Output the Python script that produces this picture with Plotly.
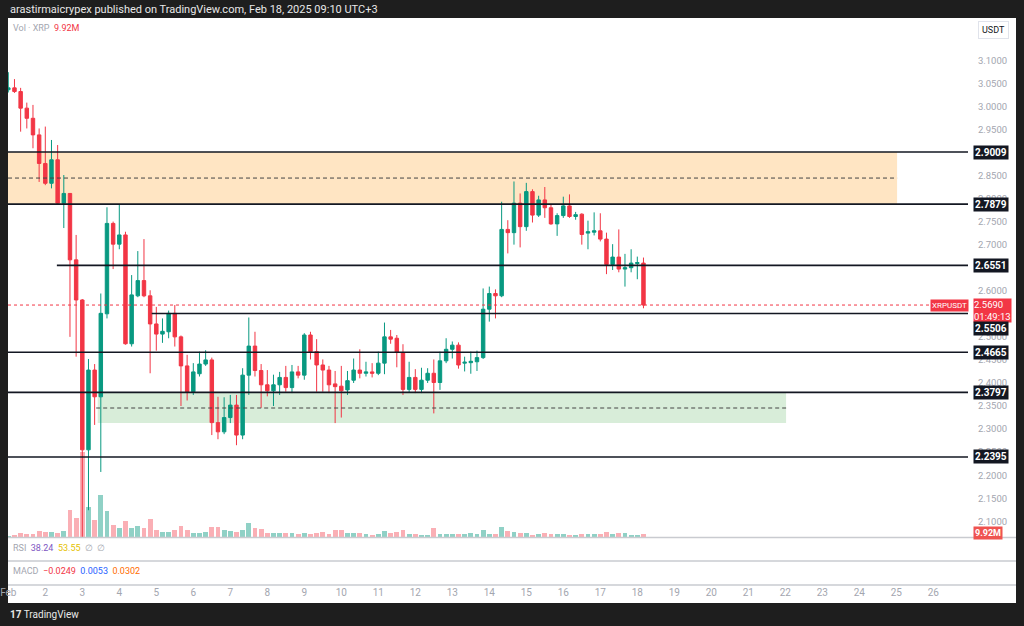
import pandas as pd
import plotly.graph_objects as go

# ---------------- data ----------------
start_time = "2025-02-01 00:00"
opens = [3.036, 3.040, 3.032, 2.996, 2.974, 2.938, 2.876, 2.833, 2.884, 2.790,
         2.811, 2.667, 2.580, 2.255, 2.428, 2.370, 2.550, 2.746, 2.701, 2.721,
         2.485, 2.589, 2.622, 2.589, 2.528, 2.506, 2.511, 2.551, 2.500, 2.437,
         2.381, 2.420, 2.441, 2.450, 2.314, 2.294, 2.325, 2.352, 2.287, 2.417,
         2.480, 2.427, 2.396, 2.383, 2.396, 2.412, 2.390, 2.424, 2.417, 2.504,
         2.468, 2.439, 2.428, 2.398, 2.393, 2.385, 2.406, 2.428, 2.421, 2.424,
         2.421, 2.443, 2.500, 2.497, 2.466, 2.386, 2.412, 2.386, 2.406, 2.421,
         2.401, 2.448, 2.473, 2.482, 2.443, 2.444, 2.446, 2.455, 2.560, 2.594,
         2.589, 2.733, 2.726, 2.790, 2.739, 2.815, 2.764, 2.797, 2.780, 2.745,
         2.763, 2.784, 2.761, 2.766, 2.725, 2.727, 2.730, 2.712, 2.657, 2.673,
         2.647, 2.650, 2.659, 2.660]
highs = [3.074, 3.059, 3.040, 3.008, 3.003, 2.952, 2.956, 2.927, 2.916, 2.851,
         2.812, 2.721, 2.582, 2.452, 2.441, 2.594, 2.781, 2.750, 2.788, 2.728,
         2.634, 2.686, 2.712, 2.601, 2.565, 2.540, 2.557, 2.569, 2.503, 2.461,
         2.443, 2.468, 2.471, 2.455, 2.370, 2.369, 2.374, 2.374, 2.432, 2.542,
         2.511, 2.441, 2.428, 2.418, 2.424, 2.437, 2.439, 2.437, 2.508, 2.511,
         2.495, 2.451, 2.437, 2.426, 2.437, 2.426, 2.453, 2.473, 2.446, 2.443,
         2.468, 2.531, 2.515, 2.504, 2.484, 2.446, 2.430, 2.433, 2.432, 2.451,
         2.468, 2.497, 2.490, 2.488, 2.457, 2.468, 2.470, 2.605, 2.609, 2.603,
         2.793, 2.753, 2.837, 2.811, 2.834, 2.820, 2.806, 2.825, 2.787, 2.768,
         2.804, 2.809, 2.771, 2.768, 2.752, 2.770, 2.768, 2.726, 2.701, 2.733,
         2.680, 2.690, 2.674, 2.672]
lows = [3.030, 3.029, 2.945, 2.952, 2.909, 2.836, 2.829, 2.822, 2.786, 2.736,
        2.500, 2.457, 1.770, 2.124, 2.309, 2.207, 2.540, 2.647, 2.690, 2.483,
        2.479, 2.586, 2.586, 2.421, 2.470, 2.487, 2.497, 2.479, 2.350, 2.362,
        2.374, 2.414, 2.437, 2.287, 2.278, 2.289, 2.313, 2.265, 2.278, 2.374,
        2.414, 2.346, 2.371, 2.350, 2.374, 2.381, 2.378, 2.410, 2.407, 2.451,
        2.381, 2.381, 2.378, 2.313, 2.325, 2.374, 2.400, 2.410, 2.414, 2.412,
        2.417, 2.419, 2.485, 2.434, 2.374, 2.380, 2.378, 2.378, 2.400, 2.334,
        2.385, 2.443, 2.453, 2.431, 2.425, 2.420, 2.426, 2.452, 2.533, 2.540,
        2.586, 2.681, 2.700, 2.694, 2.730, 2.748, 2.760, 2.758, 2.743, 2.719,
        2.758, 2.758, 2.754, 2.700, 2.690, 2.720, 2.707, 2.636, 2.645, 2.640,
        2.609, 2.640, 2.625, 2.562]
closes = [3.040, 3.032, 2.996, 2.974, 2.938, 2.876, 2.833, 2.884, 2.790, 2.811,
          2.667, 2.580, 2.255, 2.428, 2.370, 2.551, 2.746, 2.701, 2.721, 2.485,
          2.591, 2.622, 2.589, 2.528, 2.506, 2.512, 2.551, 2.500, 2.437, 2.381,
          2.424, 2.441, 2.450, 2.314, 2.294, 2.325, 2.352, 2.287, 2.417, 2.480,
          2.427, 2.396, 2.383, 2.396, 2.412, 2.390, 2.424, 2.417, 2.504, 2.468,
          2.439, 2.428, 2.396, 2.392, 2.383, 2.405, 2.428, 2.421, 2.424, 2.421,
          2.443, 2.500, 2.495, 2.466, 2.386, 2.412, 2.386, 2.406, 2.421, 2.401,
          2.448, 2.473, 2.482, 2.439, 2.445, 2.447, 2.455, 2.560, 2.594, 2.589,
          2.733, 2.726, 2.790, 2.739, 2.815, 2.764, 2.797, 2.780, 2.745, 2.763,
          2.784, 2.761, 2.765, 2.722, 2.728, 2.730, 2.712, 2.657, 2.673, 2.647,
          2.650, 2.660, 2.661, 2.569]
volumes_m = [4.3, 6.6, 12, 10, 10, 19, 16.5, 15.5, 14, 20,
             89, 63, 280, 99, 56, 139, 86, 40, 30, 53,
             31, 35, 29, 59, 24, 15.5, 15.5, 23, 37, 24,
             13, 13, 16.5, 32, 32, 23, 19, 17.5, 22, 46,
             29, 26, 13, 12, 13, 13, 13, 9, 13, 10,
             12, 15.5, 9, 24, 24, 13, 13, 13, 11, 7.6,
             11, 20, 13, 15.5, 23, 11, 9, 6.6, 6.6, 31,
             11, 11, 10, 10, 10, 13, 9, 23, 11, 9,
             33, 20, 17.5, 13, 13, 7.6, 9, 13, 11, 9,
             9, 6.6, 6.6, 10, 9, 9, 9, 16.5, 9, 13,
             13, 6.6, 6.6, 9.92]

level_prices = [2.9009, 2.7879, 2.6551, 2.5506, 2.4665, 2.3797, 2.2395]
level_starts = [None, None, "2025-02-02 07:30", "2025-02-04 21:00", None, None, None]
supply_zone = [2.7879, 2.9009, 2.8444]      # bottom, top, mid
demand_zone = [2.3131, 2.3797, 2.3457]
last_price = 2.5690
countdown = "01:49:13"
price_ticks = [2.10, 2.15, 2.20, 2.25, 2.30, 2.35, 2.40, 2.45, 2.50, 2.60,
               2.70, 2.75, 2.80, 2.85, 2.95, 3.00, 3.05, 3.10]
day_ticks = pd.date_range("2025-02-01", "2025-02-27", freq="D")
day_labels = ["Feb"] + [str(d) for d in range(2, 28)]

times = pd.date_range(start_time, periods=len(opens), freq="4h")

# ---------------- layout helpers ----------------
W, H = 1024, 626
def px(x):
    return x / W
def py(y):
    return 1 - y / H

GREEN = "#089981"
RED = "#f23645"
x_range = [pd.Timestamp("2025-01-31 23:48"), pd.Timestamp("2025-02-26 22:30")]
y_range = [2.06594, 3.19151]

vol_colors = ["rgba(8,153,129,0.45)" if c >= o else "rgba(242,54,69,0.40)"
              for o, c in zip(opens, closes)]

fig = go.Figure()
fig.add_trace(go.Bar(x=times, y=volumes_m, marker=dict(color=vol_colors, line=dict(width=0)),
                     width=4 * 3600 * 1000 * 0.8, xaxis="x", yaxis="y", hoverinfo="skip",
                     showlegend=False))
fig.add_trace(go.Candlestick(
    x=times, open=opens, high=highs, low=lows, close=closes,
    xaxis="x", yaxis="y2", showlegend=False, whiskerwidth=0,
    increasing=dict(line=dict(color=GREEN, width=1), fillcolor=GREEN),
    decreasing=dict(line=dict(color=RED, width=1), fillcolor=RED),
))

shapes = []
# white chart canvas
shapes.append(dict(type="rect", xref="paper", yref="paper", x0=px(8), x1=px(1016),
                   y0=py(603), y1=py(18), fillcolor="white", line=dict(width=0), layer="below"))
# zones
shapes.append(dict(type="rect", xref="x", yref="y2", x0=x_range[0], x1="2025-02-25 00:30",
                   y0=supply_zone[0], y1=supply_zone[1], fillcolor="rgba(255,160,40,0.28)",
                   line=dict(width=0), layer="below"))
shapes.append(dict(type="rect", xref="x", yref="y2", x0="2025-02-03 10:00", x1="2025-02-22 00:30",
                   y0=demand_zone[0], y1=demand_zone[1], fillcolor="rgba(76,175,80,0.22)",
                   line=dict(width=0), layer="below"))
shapes.append(dict(type="line", xref="x", yref="y2", x0=x_range[0], x1="2025-02-25 00:30",
                   y0=supply_zone[2], y1=supply_zone[2],
                   line=dict(color="#444", width=1, dash="4px,3px")))
shapes.append(dict(type="line", xref="x", yref="y2", x0="2025-02-03 09:00", x1="2025-02-22 00:30",
                   y0=demand_zone[2], y1=demand_zone[2],
                   line=dict(color="#444", width=1, dash="4px,3px")))
# horizontal levels
for p, s in zip(level_prices, level_starts):
    shapes.append(dict(type="line", xref="x", yref="y2", x0=s if s else x_range[0], x1=x_range[1],
                       y0=p, y1=p, line=dict(color="#131722", width=1.6)))
# last price dotted
shapes.append(dict(type="line", xref="x", yref="y2", x0=x_range[0], x1=x_range[1],
                   y0=last_price, y1=last_price, line=dict(color=RED, width=1, dash="dot")))
# pane separators
for yy in (537.5, 561, 585):
    shapes.append(dict(type="line", xref="paper", yref="paper", x0=px(8), x1=px(1016),
                       y0=py(yy), y1=py(yy), line=dict(color="#c9cbd0", width=1.5)))

FONT = "Roboto, Arial, sans-serif"
ann = []
ann.append(dict(xref="paper", yref="paper", x=px(8), y=py(9), xanchor="left", yanchor="middle",
                text="arastirmaicrypex published on TradingView.com, Feb 18, 2025 09:10 UTC+3",
                showarrow=False, font=dict(family=FONT, size=11, color="#e8e8e8")))
ann.append(dict(xref="paper", yref="paper", x=px(11), y=py(28), xanchor="left", yanchor="middle",
                text="<span style='color:#a3a6af'>Vol · XRP</span>  <span style='color:#f23645'>9.92M</span>",
                showarrow=False, font=dict(family=FONT, size=9)))
ann.append(dict(xref="paper", yref="paper", x=px(11), y=py(548), xanchor="left", yanchor="middle",
                text="<span style='color:#a3a6af'>RSI</span>  <span style='color:#7e57c2'>38.24</span>  "
                     "<span style='color:#e5c100'>53.55</span>  <span style='color:#a3a6af'>∅  ∅</span>",
                showarrow=False, font=dict(family=FONT, size=9)))
ann.append(dict(xref="paper", yref="paper", x=px(11), y=py(571), xanchor="left", yanchor="middle",
                text="<span style='color:#a3a6af'>MACD</span>  <span style='color:#f23645'>−0.0249</span>  "
                     "<span style='color:#2962ff'>0.0053</span>  <span style='color:#ff6d00'>0.0302</span>",
                showarrow=False, font=dict(family=FONT, size=9)))
ann.append(dict(xref="paper", yref="paper", x=px(8), y=py(614), xanchor="left", yanchor="middle",
                text="<b>17</b> TradingView", showarrow=False,
                font=dict(family=FONT, size=10, color="#e8e8e8")))
ann.append(dict(xref="paper", yref="paper", x=px(993), y=py(30), xanchor="center", yanchor="middle",
                text="USDT", showarrow=False, bgcolor="white", bordercolor="#e0e3eb", borderwidth=1,
                borderpad=3, font=dict(family=FONT, size=9, color="#131722")))
# live price box
ann.append(dict(xref="paper", yref="y2", x=px(973), y=last_price, xanchor="left", yanchor="top",
                yshift=7, text=f"{last_price:.4f}<br>{countdown}", showarrow=False, bgcolor=RED,
                borderpad=0, align="left", font=dict(family=FONT, size=9.5, color="white")))
ann.append(dict(xref="paper", yref="y2", x=px(969), y=last_price, xanchor="right", yanchor="middle",
                text="XRPUSDT", showarrow=False, bgcolor=RED, borderpad=1,
                font=dict(family=FONT, size=8, color="white")))
# level labels (the 2.5506 label is pushed below the live-price box, as in TradingView)
for p in level_prices:
    shift = -15 if p == 2.5506 else 0
    ann.append(dict(xref="paper", yref="y2", x=px(973), y=p, xanchor="left", yanchor="middle",
                    yshift=shift, text=f"<b>{p:.4f}</b>", showarrow=False, bgcolor="#131722",
                    borderpad=1, font=dict(family=FONT, size=10, color="white")))
ann.append(dict(xref="paper", yref="paper", x=px(973), y=py(533), xanchor="left", yanchor="middle",
                text="<b>9.92M</b>", showarrow=False, bgcolor="#ef5350", borderpad=1,
                font=dict(family=FONT, size=9, color="white")))

fig.update_layout(
    width=W, height=H, autosize=False,
    margin=dict(l=0, r=0, t=0, b=0, pad=0, autoexpand=False),
    paper_bgcolor="#1e1e1e", plot_bgcolor="white",
    font=dict(family=FONT),
    showlegend=False, bargap=0, boxgap=0.2,
    xaxis=dict(type="date", domain=[px(8), px(968)], range=x_range, anchor="free",
               position=py(585), showgrid=False, zeroline=False, showline=False, ticks="",
               tickvals=list(day_ticks), ticktext=day_labels, tickangle=0, automargin=False,
               tickfont=dict(family=FONT, size=10, color="#a3a6af"),
               rangeslider=dict(visible=False), fixedrange=True),
    yaxis=dict(domain=[py(537), py(18)], range=[0, 1713], visible=False, fixedrange=True,
               automargin=False),
    yaxis2=dict(overlaying="y", anchor="x", side="right", range=y_range, showgrid=False,
                zeroline=False, showline=False, tickvals=price_ticks, automargin=False,
                ticktext=[f"{v:.4f}" for v in price_ticks], ticks="outside", ticklen=7,
                tickcolor="rgba(0,0,0,0)", tickfont=dict(family=FONT, size=9.5, color="#a3a6af"),
                fixedrange=True),
    shapes=shapes, annotations=ann,
)

fig.write_html("out.html")
